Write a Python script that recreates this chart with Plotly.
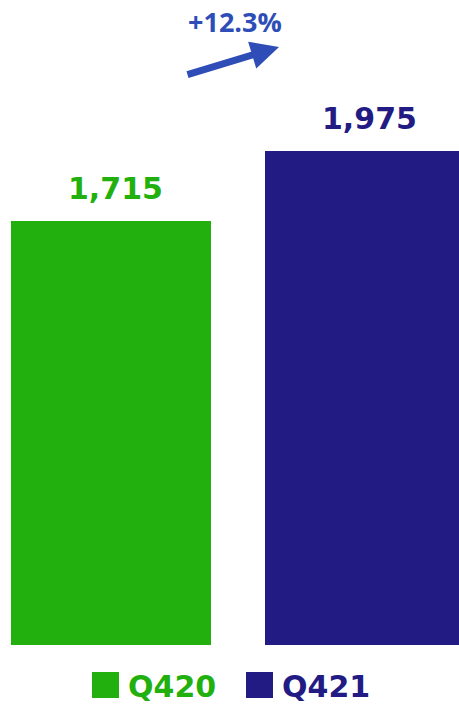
import plotly.graph_objects as go

# Quarterly totals
quarters = ["Q420", "Q421"]
totals = [1715, 1975]
bar_colors = ["#22B00E", "#231B84"]
growth_label = "+12.3%"
growth_color = "#2E4DB6"

W, H = 459, 704
plot_bottom = 645  # pixel row of the bars' base

positions = list(range(len(quarters)))

fig = go.Figure()
fig.add_trace(go.Bar(
    x=positions,
    y=totals,
    width=0.787,
    marker=dict(color=bar_colors, line=dict(width=0)),
    showlegend=False,
    hoverinfo="skip",
))

# value labels above each bar
for xi, v, c in zip(positions, totals, bar_colors):
    fig.add_annotation(
        x=xi, y=v, xref="x", yref="y",
        text=f"<b>{v:,}</b>", showarrow=False,
        yanchor="middle", yshift=33, xshift=4,
        font=dict(family="DejaVu Sans", size=30, color=c),
    )

# growth arrow and label
fig.add_annotation(
    x=279 / W, y=1 - 47 / plot_bottom, xref="paper", yref="paper",
    ax=-93, ay=28, text="", showarrow=True,
    arrowhead=2, arrowsize=0.8, arrowwidth=7, arrowcolor=growth_color,
    standoff=0,
)
fig.add_annotation(
    x=235 / W, y=1 - 22 / plot_bottom, xref="paper", yref="paper",
    text=f"<b>{growth_label}</b>", showarrow=False, yanchor="middle",
    font=dict(family="Open Sans", size=27, color=growth_color),
)

# legend: coloured squares with quarter names
legend_sq_left = [92, 246]
for q, c, sx in zip(quarters, bar_colors, legend_sq_left):
    fig.add_shape(
        type="rect", xref="paper", yref="paper",
        x0=sx / W, x1=(sx + 27) / W,
        y0=1 - 698 / plot_bottom, y1=1 - 672 / plot_bottom,
        fillcolor=c, line=dict(width=0),
    )
    fig.add_annotation(
        x=(sx + 34) / W, y=1 - 686 / plot_bottom, xref="paper", yref="paper",
        text=f"<b>{q}</b>", showarrow=False, xanchor="left", yanchor="middle",
        font=dict(family="DejaVu Sans", size=30, color=c),
    )

fig.update_layout(
    width=W, height=H,
    margin=dict(l=0, r=0, t=0, b=H - plot_bottom, pad=0),
    paper_bgcolor="white", plot_bgcolor="white",
    bargap=0,
    xaxis=dict(range=[-111 / 254, 348 / 254], visible=False, fixedrange=True),
    yaxis=dict(range=[140, 140 + plot_bottom / 0.2692], visible=False, fixedrange=True),
    showlegend=False,
)

fig.write_html("out.html", include_plotlyjs=True, config={"displayModeBar": False})
